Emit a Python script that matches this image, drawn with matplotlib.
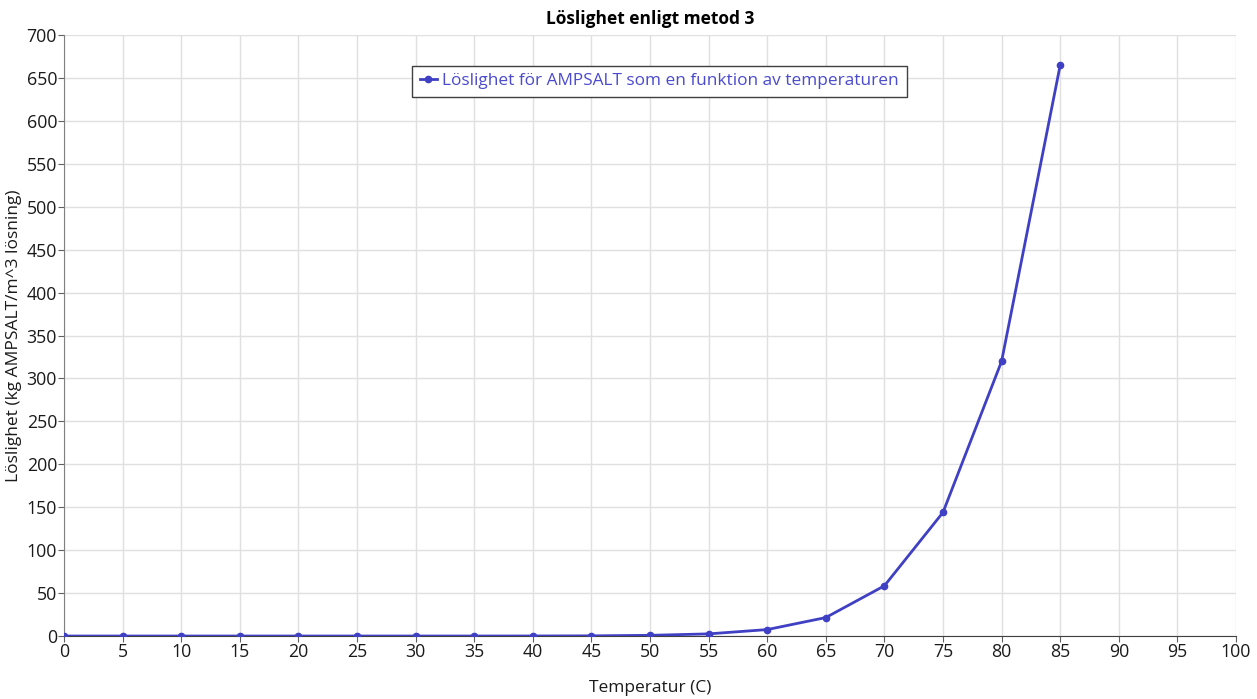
import matplotlib
matplotlib.use("Agg")
import matplotlib.pyplot as plt

# solubility per temperature, method 3
temperatur = [0, 5, 10, 15, 20, 25, 30, 35, 40, 45, 50, 55, 60, 65, 70, 75, 80, 85]
loslighet = [0.0, 0.0, 0.0, 0.0, 0.0, 0.0, 0.0, 0.0, 0.05, 0.2, 0.8, 2.5, 7.5, 21.5, 58.5, 144, 320, 665]

x_ticks = list(range(0, 101, 5))
y_ticks = list(range(0, 701, 50))

plt.rcParams["font.family"] = ["Open Sans", "DejaVu Sans"]

line_color = "#4040C4"

fig = plt.figure(figsize=(12.57, 6.99), dpi=100)
ax = fig.add_axes([0.0509, 0.0901, 0.9324, 0.8598])

ax.plot(temperatur, loslighet, color=line_color, linewidth=2, marker="o", markersize=4.5,
        label="Löslighet för AMPSALT som en funktion av temperaturen", zorder=3)

ax.set_xlim(0, 100)
ax.set_ylim(0, 700)
ax.set_xticks(x_ticks)
ax.set_yticks(y_ticks)
ax.grid(True, color="#e0e0e0", linewidth=1)
ax.set_axisbelow(True)

for side in ("top", "right"):
    ax.spines[side].set_visible(False)
ax.spines["left"].set_color("#808080")
ax.spines["bottom"].set_color("#404040")
ax.tick_params(axis="both", labelsize=12.8, color="#606060", length=4, labelcolor="#1a1a1a", pad=1)

ax.set_xlabel("Temperatur (C)", fontsize=12.5, color="#1a1a1a", labelpad=14)
ax.set_ylabel("Löslighet (kg AMPSALT/m^3 lösning)", fontsize=12.5, color="#1a1a1a", labelpad=3)
ax.set_title("Löslighet enligt metod 3", fontsize=12.5, fontweight="bold", pad=8)

leg = ax.legend(loc="center", bbox_to_anchor=(0.508, 0.923), fontsize=12.4, fancybox=False,
                framealpha=1, edgecolor="#404040", handlelength=1.0, handletextpad=0.3,
                borderpad=0.45, borderaxespad=0)
leg.get_frame().set_linewidth(1)
for t in leg.get_texts():
    t.set_color("#4A4ACF")

fig.savefig("out.png", dpi=100)
